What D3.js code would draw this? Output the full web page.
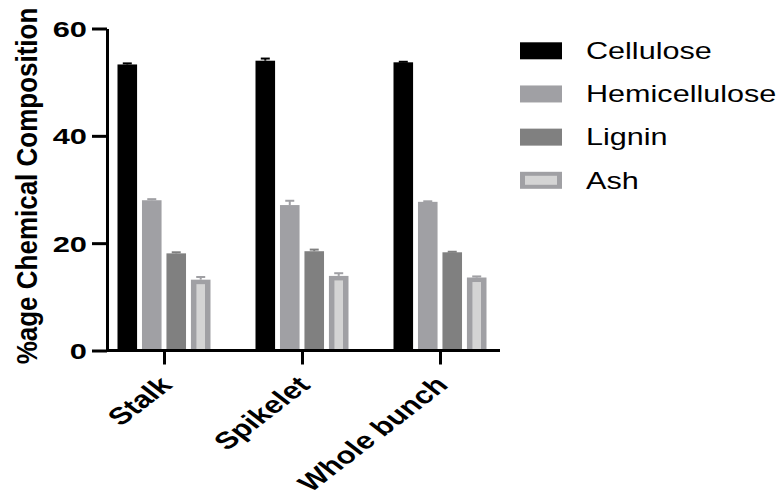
<!DOCTYPE html>
<html lang="en">
<head>
  <meta charset="UTF-8" />
  <title>Chemical Composition</title>
  <style>
    * { margin:0; padding:0; box-sizing:border-box }
    body { background:#fff; font-family:'Liberation Sans',Arial,sans-serif; }
    svg text { font-family:'Liberation Sans',Arial,sans-serif; }
  </style>
</head>
<body>
  <div id="chart"></div>

  <script src="https://d3js.org/d3.v7.min.js"></script>
  <script>
    // categories + series
    const categories = ["Stalk","Spikelet","Whole bunch"];
    const series = ["Cellulose","Hemicellulose","Lignin","Ash"];

    // mean values per series (Stalk, Spikelet, Whole bunch)
    const cellulose     = [53.3, 54.0, 53.7];
    const hemicellulose = [28.0, 27.1, 27.7];
    const lignin        = [18.1, 18.5, 18.3];
    const ash           = [13.2, 13.9, 13.6];

    // error (SD)
    const celluloseErr     = [0.2, 0.4, 0.1];
    const hemicelluloseErr = [0.2, 0.8, 0.1];
    const ligninErr        = [0.2, 0.3, 0.1];
    const ashErr           = [0.5, 0.5, 0.2];

    const yTicks = [0,20,40,60];

    const values = [cellulose, hemicellulose, lignin, ash];
    const errors = [celluloseErr, hemicelluloseErr, ligninErr, ashErr];

    const fills   = {Cellulose:"#000000", Hemicellulose:"#a0a0a4", Lignin:"#808080", Ash:"#a0a0a4"};
    const inner   = {Ash:"#d4d4d4"};
    const errCol  = {Cellulose:"#000000", Hemicellulose:"#a0a0a4", Lignin:"#808080", Ash:"#a0a0a4"};

    const W = 780, H = 490;
    const SX = 1.4;   // the original picture is stretched sideways

    const svg = d3.select("#chart").append("svg")
      .attr("width", W).attr("height", H);

    const y = d3.scaleLinear().domain([0,60]).range([350.5, 28.5]);
    const x = d3.scalePoint().domain(categories).range([164, 440]);
    const xs = d3.scaleBand().domain(series).range([-46.5, 46.5]).paddingInner(0.2);

    // flat table for bars
    const rows = [];
    series.forEach((s,i)=>{
      categories.forEach((c,j)=>{
        rows.push({s, c, v:values[i][j], e:errors[i][j]});
      });
    });

    // bars
    const bars = svg.append("g");
    bars.selectAll("rect.bar").data(rows).join("rect")
      .attr("class","bar")
      .attr("x", d=>x(d.c)+xs(d.s))
      .attr("width", xs.bandwidth())
      .attr("y", d=>y(d.v))
      .attr("height", d=>y(0)-y(d.v))
      .attr("fill", d=>fills[d.s]);

    // ash bars get the light inner fill
    bars.selectAll("rect.inner").data(rows.filter(d=>inner[d.s])).join("rect")
      .attr("class","inner")
      .attr("x", d=>x(d.c)+xs(d.s)+5.5)
      .attr("width", xs.bandwidth()-11)
      .attr("y", d=>y(d.v)+4.5)
      .attr("height", d=>y(0)-y(d.v)-4.5)
      .attr("fill", d=>inner[d.s]);

    // error bars (upper only)
    const eb = svg.append("g").attr("stroke-width",2);
    eb.selectAll("line.ev").data(rows).join("line")
      .attr("class","ev")
      .attr("x1", d=>x(d.c)+xs(d.s)+xs.bandwidth()/2)
      .attr("x2", d=>x(d.c)+xs(d.s)+xs.bandwidth()/2)
      .attr("y1", d=>y(d.v))
      .attr("y2", d=>y(d.v+d.e))
      .attr("stroke", d=>errCol[d.s]);
    eb.selectAll("line.cap").data(rows).join("line")
      .attr("class","cap")
      .attr("x1", d=>x(d.c)+xs(d.s)+xs.bandwidth()/2-4.5)
      .attr("x2", d=>x(d.c)+xs(d.s)+xs.bandwidth()/2+4.5)
      .attr("y1", d=>y(d.v+d.e))
      .attr("y2", d=>y(d.v+d.e))
      .attr("stroke", d=>errCol[d.s]);

    // y axis
    const yAxis = svg.append("g")
      .attr("transform","translate(107,0)")
      .call(d3.axisLeft(y).tickValues(yTicks).tickSize(15).tickSizeOuter(0).tickFormat(d3.format("d")));
    yAxis.select(".domain").attr("stroke","#000").attr("stroke-width",3);
    yAxis.selectAll(".tick line").attr("stroke","#000").attr("stroke-width",3);
    yAxis.selectAll(".tick text")
      .attr("x",null).attr("dy",null)
      .attr("transform","translate(-20,0) scale(" + SX + ",1)")
      .attr("dy","0.36em")
      .attr("fill","#000")
      .style("font-size","22px").style("font-weight","bold");

    // x axis
    const xAxis = svg.append("g")
      .attr("transform","translate(0,350.5)")
      .call(d3.axisBottom(x).tickSize(14).tickSizeOuter(0));
    xAxis.select(".domain").attr("d","M107,0H500").attr("stroke","#000").attr("stroke-width",3);
    xAxis.selectAll(".tick line").attr("stroke","#000").attr("stroke-width",3);
    xAxis.selectAll(".tick text")
      .attr("y",null).attr("dy",null)
      .attr("transform","translate(9,36) scale(1.3,1) rotate(-45)")
      .attr("text-anchor","end")
      .attr("fill","#000")
      .style("font-size","24px").style("font-weight","bold");

    // y title
    svg.append("text")
      .attr("transform","translate(37,186) scale(1.15,1) rotate(-90)")
      .attr("text-anchor","middle")
      .style("font-size","26px").style("font-weight","bold")
      .text("%age Chemical Composition");

    // legend
    const ly = d3.scalePoint().domain(series).range([50.8, 180.3]);
    const leg = svg.append("g");
    leg.selectAll("rect.sw").data(series).join("rect")
      .attr("class","sw")
      .attr("x",520).attr("width",42)
      .attr("y", d=>ly(d)-8.5).attr("height",17)
      .attr("fill", d=>fills[d]);
    leg.selectAll("rect.swi").data(series.filter(s=>inner[s])).join("rect")
      .attr("class","swi")
      .attr("x",525).attr("width",32)
      .attr("y", d=>ly(d)-4.5).attr("height",9)
      .attr("fill", d=>inner[d]);
    leg.selectAll("text").data(series).join("text")
      .attr("transform", d=>"translate(586," + ly(d) + ") scale(1.33,1)")
      .attr("dy","0.36em")
      .style("font-size","23px")
      .text(d=>d);
  </script>
</body>
</html>
